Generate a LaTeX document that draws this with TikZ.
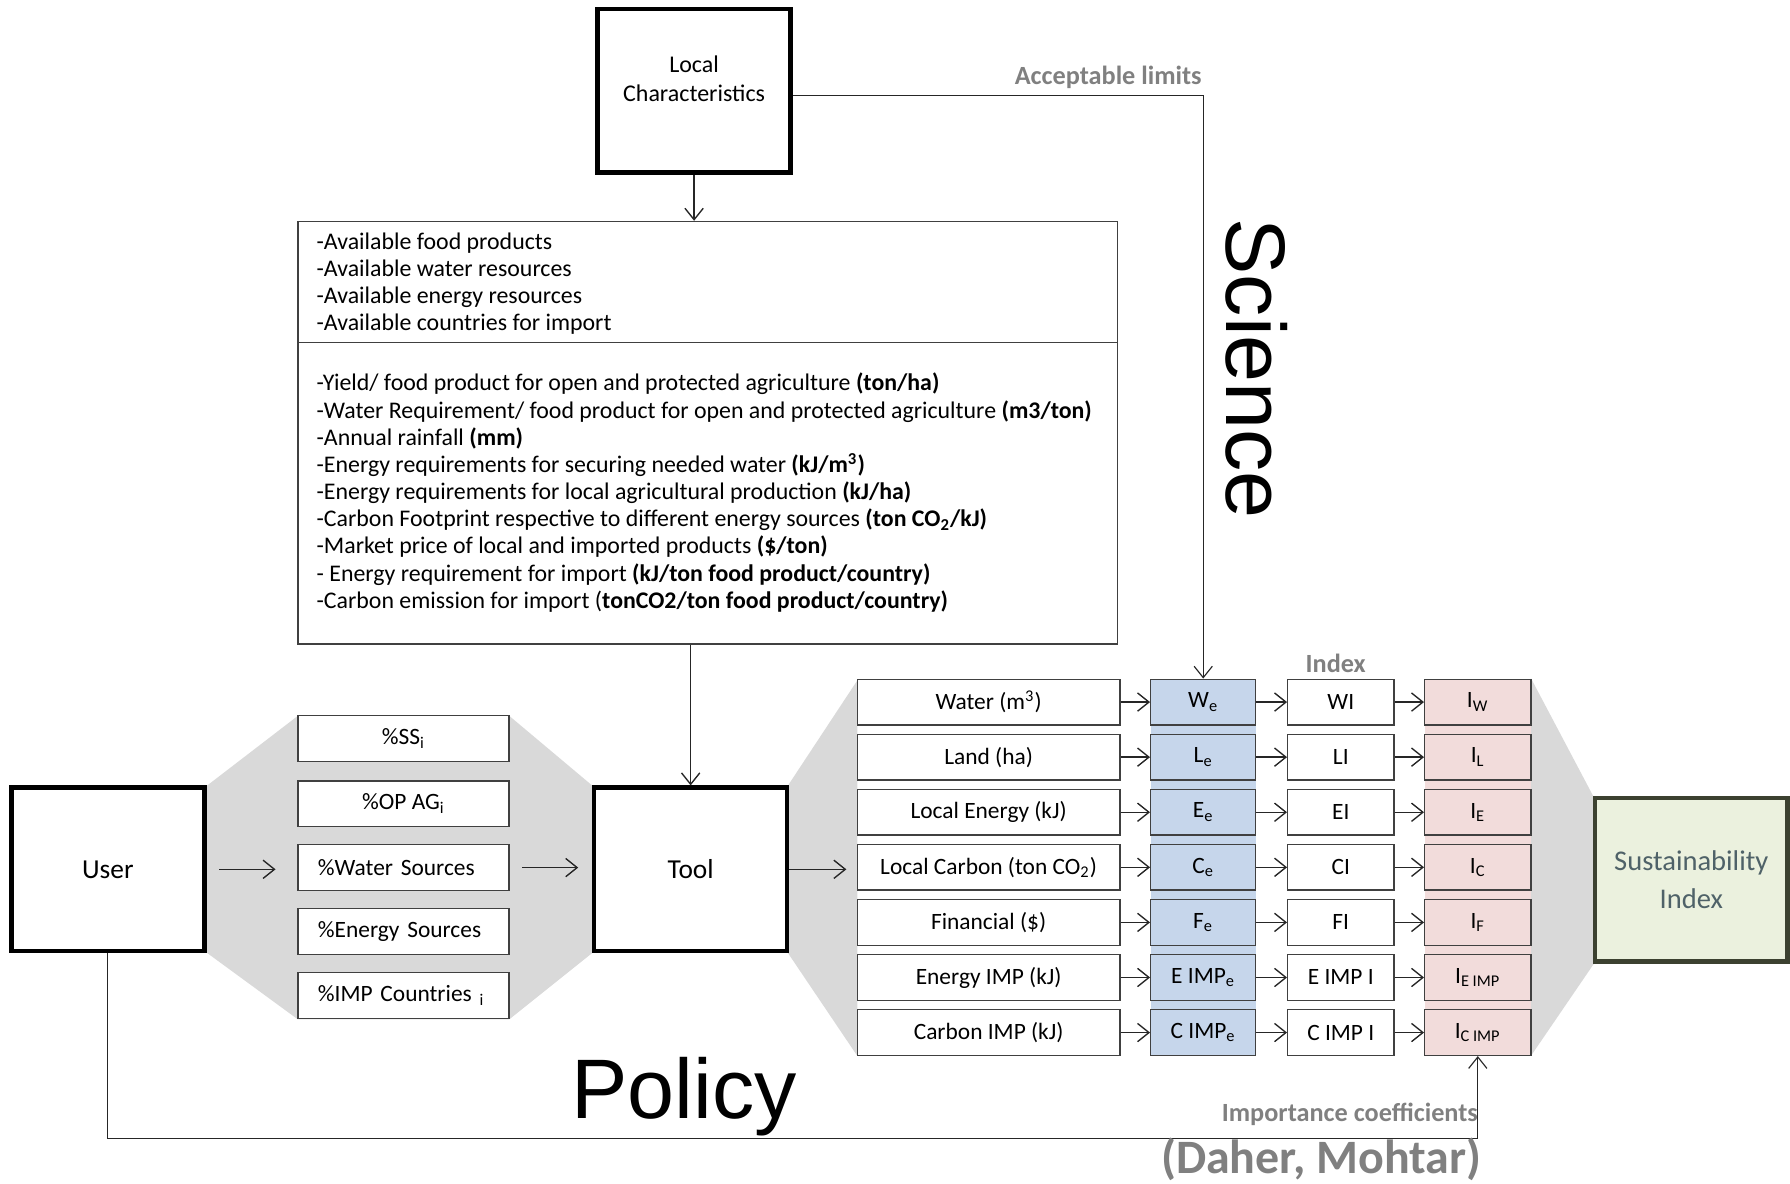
\documentclass[tikz,border=0pt]{standalone}
\usepackage{fontspec}
\setmainfont{Carlito}
\newfontfamily\arialf{Liberation Sans}
\usetikzlibrary{arrows.meta}
\definecolor{gfill}{HTML}{D9D9D9}
\definecolor{bfill}{HTML}{C6D6EB}
\definecolor{pfill}{HTML}{F2DCDB}
\definecolor{sfill}{HTML}{EBF1DE}
\definecolor{sdraw}{HTML}{3C4130}
\definecolor{stext}{HTML}{4F6268}
\definecolor{lab}{HTML}{808080}
\definecolor{edge}{HTML}{404040}
\begin{document}
\begin{tikzpicture}[x=0.5pt,y=-0.5pt,
 arr/.style={draw=black!85, line width=0.6pt, -{Straight Barb[length=5pt,width=8pt]}},
 thinbox/.style={draw=edge, line width=0.6pt, fill=white, inner sep=0pt, font=\fontsize{10.25}{12}\selectfont},
 heavybox/.style={draw=black, line width=2pt, fill=white, inner sep=0pt, minimum width=84.5pt, minimum height=71.5pt, align=center},
 csmall/.style={thinbox, minimum width=92.5pt, minimum height=20pt},
 lsmall/.style={thinbox, minimum height=20pt, text width=75pt, inner xsep=8.75pt, align=left},
 lbl/.style={text=lab, font=\fontsize{11.5}{13}\selectfont\bfseries, inner sep=0pt},
 listtext/.style={anchor=west, align=left, inner sep=0pt, font=\fontsize{10.45}{11.9}\selectfont},
 bigword/.style={inner sep=0pt, font=\arialf\fontsize{37}{40}\selectfont},
]
\useasboundingbox (0,0) rectangle (1568,1037);
% background shapes
\fill[gfill] (179,690) -- (261,627) -- (446,627) -- (521,690) -- (521,833) -- (446,893) -- (261,893) -- (179,833) -- cycle;
\fill[gfill] (689,690) -- (751,596) -- (751,925) -- (689,833) -- cycle;
\fill[gfill] (1341,594) -- (1397,700) -- (1397,843) -- (1341,925) -- cycle;
\fill[bfill] (1008,595) rectangle (1100,925);
\fill[pfill] (1248,595) rectangle (1341,925);

% main boxes
\node[heavybox] (local) at (608,79.5) {};
\node[align=center, inner sep=0pt, font=\fontsize{10.5}{12.5}\selectfont] (localtxt) at (608,69) {Local\\Characteristics};
\node[heavybox, font=\fontsize{12}{14}\selectfont] (user) at (94.5,761.5) {User};
\node[heavybox, font=\fontsize{12}{14}\selectfont] (tool) at (605,761.5) {Tool};
\node[heavybox, draw=sdraw, fill=sfill, text=stext, font=\fontsize{12.5}{16.5}\selectfont] (sust) at (1481.5,770.5) {Sustainability\\Index};

% big information box
\node[thinbox, minimum width=359pt, minimum height=53pt] (avail) at (620,247) {};
\node[thinbox, minimum width=359pt, minimum height=132pt] (req) at (620,432) {};
\node[listtext] (availtxt) at (277,248.5) {-Available food products\\-Available water resources\\-Available energy resources\\-Available countries for import};
\node[listtext] (reqtxt) at (277,431.5) {-Yield/ food product for open and protected agriculture \textbf{(ton/ha)}\\
-Water Requirement/ food product for open and protected agriculture \textbf{(m3/ton)}\\
-Annual rainfall \textbf{(mm)}\\
-Energy requirements for securing needed water \textbf{(kJ/m\textsuperscript{3})}\\
-Energy requirements for local agricultural production \textbf{(kJ/ha)}\\
-Carbon Footprint respective to different energy sources \textbf{(ton CO\textsubscript{2}/kJ)}\\
-Market price of local and imported products \textbf{(\$/ton)}\\
- Energy requirement for import \textbf{(kJ/ton food product/country)}\\
-Carbon emission for import (\textbf{tonCO2/ton food product/country)}};

% policy inputs
\node[csmall] (ss) at (353.5,647) {\%SS\textsubscript{i}};
\node[csmall] (op) at (353.5,704) {\%OP AG\textsubscript{i}};
\node[lsmall] (ws) at (353.5,760) {\%Water Sources};
\node[lsmall] (es) at (353.5,816) {\%Energy Sources};
\node[lsmall] (ic) at (353.5,872) {\%IMP Countries \textsubscript{i}};

% indicator rows
\foreach \i/\ta/\tb/\tc/\td in {
1/{Water (m\textsuperscript{3})}/{W\textsubscript{e}}/{WI}/{I\textsubscript{W}},
2/{Land (ha)}/{L\textsubscript{e}}/{LI}/{I\textsubscript{L}},
3/{Local Energy (kJ)}/{E\textsubscript{e}}/{EI}/{I\textsubscript{E}},
4/{Local Carbon (ton CO\textsubscript{2})}/{C\textsubscript{e}}/{CI}/{I\textsubscript{C}},
5/{Financial (\$)}/{F\textsubscript{e}}/{FI}/{I\textsubscript{F}},
6/{Energy IMP (kJ)}/{E IMP\textsubscript{e}}/{E IMP I}/{I\textsubscript{E IMP}},
7/{Carbon IMP (kJ)}/{C IMP\textsubscript{e}}/{C IMP I}/{I\textsubscript{C IMP}}}
{
 \pgfmathsetmacro\yy{615+(\i-1)*48.25}
 \node[thinbox, minimum width=115pt, minimum height=20pt] (c1-\i) at (866,\yy) {\ta};
 \node[thinbox, fill=bfill, minimum width=46pt, minimum height=20pt] (bl-\i) at (1054,\yy) {\tb};
 \node[thinbox, minimum width=46.5pt, minimum height=20pt] (ix-\i) at (1174.5,\yy) {\tc};
 \node[thinbox, fill=pfill, minimum width=46.5pt, minimum height=20pt] (pk-\i) at (1294.5,\yy) {\td};
 \draw[arr] (c1-\i.east) -- (bl-\i.west);
 \draw[arr] (bl-\i.east) -- (ix-\i.west);
 \draw[arr] (ix-\i.east) -- (pk-\i.west);
}

% connectors
\draw[arr] (local.south) -- (local.south |- avail.north);
\draw[arr, line width=0.5pt] ([yshift=-2.25pt]local.east) -| (bl-1.north);
\draw[arr] (tool.north |- req.south) -- (tool.north);
\draw[arr, shorten <=5.5pt, shorten >=9.5pt] (user.east) -- (user.east -| ws.west);
\draw[arr, shorten <=5.5pt, shorten >=6pt] (ws.east) -- (ws.east -| tool.west);
\draw[arr, shorten >=4.5pt] (tool.east) -- (tool.east -| c1-4.west);
\draw[arr, line width=0.5pt] (user.south) -- ++(0,162) -| (pk-7.south);

% labels
\node[lbl, anchor=east] (acc) at (1053,68) {Acceptable limits};
\node[lbl] (idxlbl) at (1170,581) {Index};
\node[lbl, anchor=east] (imp) at (1295,976) {Importance coefficients};
\node[lbl, anchor=base east, font=\fontsize{21}{24}\selectfont\bfseries] (ref) at (1298,1028) {(Daher, Mohtar)};
\node[bigword, rotate=-90] (sci) at (1101,323) {Science};
\node[bigword, anchor=base west] (pol) at (500,980) {Policy};
\end{tikzpicture}
\end{document}
